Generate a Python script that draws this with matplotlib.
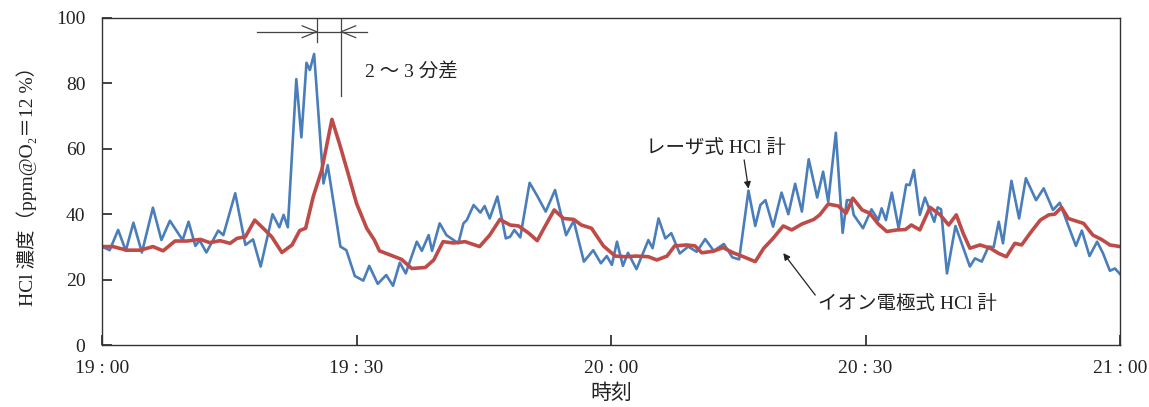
import matplotlib.pyplot as plt

plt.rcParams['font.family'] = ['Liberation Serif', 'Noto Sans CJK JP']

# minutes after 19:00, HCl ppm
laser_t = [0, 0.9, 1.9, 2.8, 3.7, 4.7, 6.0, 7.0, 8.0, 9.5, 10.2, 11.0, 11.5, 12.3, 13.7, 14.3,
           15.7, 16.9, 17.8, 18.7, 20.1, 20.9, 21.4, 21.9, 22.9, 23.5, 24.1, 24.5, 25.0, 26.1,
           26.6, 28.1, 28.8, 29.8, 30.8, 31.5, 32.5, 33.5, 34.3, 35.1, 35.8, 37.1, 37.7, 38.5,
           38.9, 39.8, 40.6, 42.0, 42.6, 43.0, 43.8, 44.6, 45.1, 45.7, 46.6, 47.6, 48.1, 48.6,
           49.3, 50.4, 51.3, 52.3, 53.4, 54.7, 55.6, 56.8, 57.9, 58.8, 59.5, 60.1, 60.7, 61.4,
           62.0, 63.0, 64.4, 64.9, 65.6, 66.4, 67.1, 68.1, 69.1, 70.1, 71.1, 72.1, 73.3, 74.3,
           75.1, 76.2, 77.0, 77.6, 78.2, 79.1, 80.1, 80.9, 81.7, 82.5, 83.3, 84.3, 85.0, 85.6,
           86.5, 87.3, 87.8, 88.3, 88.6, 89.7, 90.7, 91.5, 91.9, 92.4, 93.1, 93.9, 94.8, 95.2,
           95.7, 96.4, 97.0, 98.1, 98.5, 98.9, 99.6, 100.6, 102.3, 102.9, 103.7, 104.5, 105.1,
           105.7, 106.2, 107.2, 108.1, 108.9, 110.1, 111.0, 112.1, 112.9, 113.8, 114.8, 115.5,
           116.4, 117.3, 118.0, 118.8, 119.4, 120]
laser_v = [30.1, 29.0, 35.2, 28.8, 37.4, 28.3, 42.0, 32.1, 38.0, 32.1, 37.7, 30.3, 32.0, 28.3,
           35.0, 33.6, 46.4, 30.6, 32.3, 24.0, 40.0, 36.0, 39.8, 36.0, 81.3, 63.5, 86.3, 84.1,
           89.0, 49.4, 55.0, 30.1, 29.0, 21.1, 19.7, 24.2, 18.7, 21.4, 18.1, 25.2, 21.9, 31.6,
           28.8, 33.6, 28.8, 37.2, 33.6, 31.1, 37.2, 38.2, 42.8, 40.5, 42.5, 38.7, 45.4, 32.6,
           33.1, 35.2, 32.9, 49.6, 45.6, 40.8, 47.4, 33.6, 38.0, 25.5, 29.0, 25.0, 27.2, 24.5,
           31.6, 24.2, 28.2, 23.2, 32.1, 29.6, 38.7, 32.6, 34.2, 28.0, 30.1, 28.5, 32.4, 28.8,
           30.9, 26.8, 26.2, 47.2, 36.4, 42.8, 44.3, 36.2, 46.6, 40.0, 49.3, 40.8, 56.8, 45.1,
           53.0, 43.8, 64.9, 34.3, 44.3, 44.3, 39.8, 35.7, 41.5, 38.2, 41.8, 38.2, 46.6, 35.7,
           49.1, 48.9, 53.5, 39.8, 45.1, 37.7, 42.1, 41.5, 21.9, 36.4, 24.0, 26.5, 25.5, 30.1,
           29.9, 37.7, 31.1, 50.2, 38.7, 51.0, 44.3, 47.9, 41.3, 43.5, 37.2, 30.3, 35.0, 27.2,
           31.6, 28.0, 22.7, 23.4, 21.7]

ion_t = [0, 1.3, 2.9, 4.5, 6.0, 7.2, 8.6, 10.0, 11.6, 12.7, 13.9, 15.1, 15.9, 16.9, 18.0, 19.2,
         20.0, 21.2, 22.4, 23.3, 24.0, 24.9, 25.9, 27.1, 28.1, 29.0, 30.0, 31.2, 32.1, 32.7,
         34.3, 35.3, 36.5, 38.1, 39.1, 40.2, 41.4, 42.8, 44.5, 45.7, 46.9, 48.1, 49.1, 50.3,
         51.3, 52.2, 53.3, 54.4, 55.6, 56.5, 57.7, 59.1, 60.5, 61.7, 63.0, 64.4, 65.4, 66.6,
         67.5, 68.9, 69.9, 70.7, 72.1, 73.2, 74.4, 75.6, 77.0, 78.0, 79.1, 80.3, 81.3, 82.5,
         83.9, 84.6, 85.6, 86.8, 87.7, 88.5, 89.6, 90.5, 91.5, 92.5, 93.7, 94.7, 95.4, 96.4,
         97.6, 98.8, 99.8, 100.7, 101.5, 102.3, 103.5, 104.7, 105.7, 106.6, 107.6, 108.4,
         109.4, 110.6, 111.6, 112.3, 113.1, 113.9, 114.7, 115.7, 116.8, 117.8, 118.8, 120]
ion_v = [30.1, 30.1, 29.0, 29.0, 30.1, 28.8, 31.8, 31.8, 32.3, 31.3, 31.9, 31.1, 32.6, 33.1,
         38.2, 35.2, 33.1, 28.3, 30.6, 35.0, 35.7, 45.4, 53.5, 69.0, 60.6, 52.5, 43.3, 35.7,
         32.1, 28.8, 27.2, 26.2, 23.4, 23.7, 26.0, 31.6, 31.2, 31.6, 30.1, 33.6, 38.4, 36.7,
         36.4, 34.2, 31.9, 36.2, 41.3, 38.7, 38.4, 36.7, 35.7, 30.3, 27.2, 27.0, 27.2, 27.0,
         26.0, 27.2, 30.3, 30.6, 30.3, 28.2, 28.7, 29.8, 28.2, 27.0, 25.5, 29.6, 32.6, 36.4,
         35.2, 37.0, 38.4, 39.8, 43.1, 42.5, 40.3, 44.9, 41.3, 40.3, 37.0, 34.7, 35.2, 35.3,
         36.7, 35.2, 42.1, 39.8, 36.7, 39.8, 34.2, 29.6, 30.6, 29.6, 28.0, 27.0, 31.1, 30.6,
         34.2, 38.2, 39.8, 40.0, 42.1, 38.7, 38.0, 37.2, 33.6, 32.3, 30.6, 30.1]

tick_pos = [0, 30, 60, 90, 120]
tick_labels = ['19 : 00', '19 : 30', '20 : 00', '20 : 30', '21 : 00']

fig = plt.figure(figsize=(11.49, 4.07), dpi=100)
ax = fig.add_axes([0.0888, 0.1523, 0.886, 0.8035])

ax.plot(laser_t, laser_v, color='#4a7ebb', lw=1.9, solid_joinstyle='round')
ax.plot(ion_t, ion_v, color='#be4b48', lw=2.6, solid_joinstyle='round')

ax.set_xlim(0, 120)
ax.set_ylim(0, 100)
ax.set_xticks(tick_pos)
ax.set_xticklabels(tick_labels)
ax.set_yticks([0, 20, 40, 60, 80, 100])
ax.tick_params(direction='in', length=7, width=1.2, labelsize=14, colors='#222222')
ax.tick_params(axis='x', pad=11)
ax.tick_params(axis='y', pad=12)
for s in ax.spines.values():
    s.set_color('#333333')
    s.set_linewidth(1.0)

ax.set_ylabel('HCl 濃度（ppm@O₂＝12 %）', fontsize=14, color='#222222', labelpad=14)
ax.set_xlabel('時刻', fontsize=15, color='#222222', labelpad=5)

# 2~3 min lag marker
gc = '#444444'
ax.plot([18.3, 31.2], [95.8, 95.8], color=gc, lw=0.9)
ax.plot([25.3, 25.3], [92.8, 100], color=gc, lw=0.9)
ax.plot([28.2, 28.2], [76.1, 100], color=gc, lw=0.9)
ax.plot([23.6, 25.3, 23.6], [97.6, 95.8, 94.0], color=gc, lw=0.9)
ax.plot([29.9, 28.2, 29.9], [97.6, 95.8, 94.0], color=gc, lw=0.9)
ax.text(31.0, 83.5, '2 ～ 3 分差', fontsize=14, color='#222222', va='center')

ax.annotate('レーザ式 HCl 計', xy=(76.2, 47.8), xytext=(64.1, 60.2), fontsize=14,
            color='#222222', va='center',
            arrowprops=dict(arrowstyle='-|>', color='#222222', lw=0.9,
                            shrinkA=0, shrinkB=0, mutation_scale=10,
                            relpos=(0.7, 0.0)))
ax.annotate('イオン電極式 HCl 計', xy=(80.3, 28.1), xytext=(84.4, 12.5), fontsize=14,
            color='#222222', va='center',
            arrowprops=dict(arrowstyle='-|>', color='#222222', lw=0.9,
                            shrinkA=0, shrinkB=0, mutation_scale=10,
                            relpos=(0.0, 0.8)))

fig.savefig('out.png', dpi=100)
